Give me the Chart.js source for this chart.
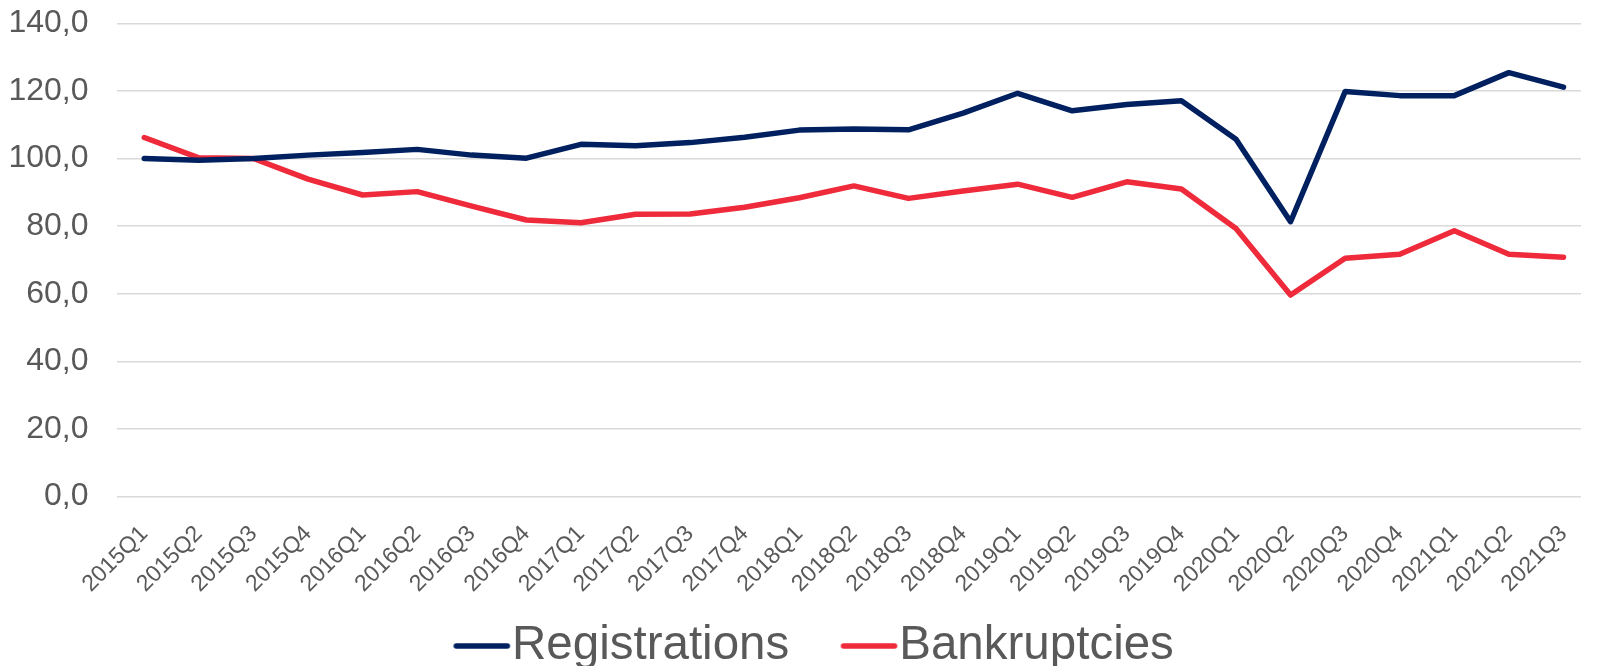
<!DOCTYPE html>
<html>
<head>
<meta charset="utf-8">
<script src="https://cdn.jsdelivr.net/npm/chart.js@4/dist/chart.umd.min.js"></script>
<style>
  html, body { margin: 0; padding: 0; background: #fff; overflow: hidden; }
  #wrap { width: 1599px; height: 666px; position: relative; }
</style>
</head>
<body>
<div id="wrap"><canvas id="kayitChart"></canvas></div>
<script>
const ceyrekler = ['2015Q1', '2015Q2', '2015Q3', '2015Q4', '2016Q1', '2016Q2', '2016Q3', '2016Q4',
  '2017Q1', '2017Q2', '2017Q3', '2017Q4', '2018Q1', '2018Q2', '2018Q3', '2018Q4',
  '2019Q1', '2019Q2', '2019Q3', '2019Q4', '2020Q1', '2020Q2', '2020Q3', '2020Q4',
  '2021Q1', '2021Q2', '2021Q3'];

const kayitlar = [100.0, 99.5, 100.0, 101.0, 101.8, 102.7, 101.0, 100.1,
  104.2, 103.8, 104.7, 106.3, 108.4, 108.7, 108.5, 113.4,
  119.3, 114.1, 116.0, 117.1, 105.7, 81.3, 119.8, 118.6,
  118.6, 125.4, 121.1];

const iflaslar = [106.2, 100.2, 100.0, 93.9, 89.2, 90.2, 85.9, 81.8,
  81.0, 83.5, 83.6, 85.6, 88.4, 91.9, 88.2, 90.4,
  92.4, 88.5, 93.1, 91.0, 79.3, 59.6, 70.5, 71.7,
  78.6, 71.7, 70.8];

const yEksen = { min: 0, max: 140, adim: 20 };
// son ceyrek grafik kenarina yakin, sag taraf kesik gorunuyor
const xEksen = { min: -0.5, max: 26.32 };

const yaziRengi = '#595959';
const font = 'Liberation Sans, Arial, sans-serif';

// legend icin kisa cizgi, yaziya yakin dursun diye saga kaydirilmis resim
function legendCizgi(color) {
  const c = document.createElement('canvas');
  c.width = 120;
  c.height = 12;
  const g = c.getContext('2d');
  g.strokeStyle = color;
  g.lineWidth = 5.5;
  g.lineCap = 'round';
  g.beginPath();
  g.moveTo(57, 6);
  g.lineTo(108, 6);
  g.stroke();
  return c;
}

const seri = (label, values, color) => ({
  label,
  data: values.map((v, i) => ({ x: i, y: v })),
  borderColor: color,
  backgroundColor: color,
  borderWidth: 5.5,
  borderCapStyle: 'round',
  borderJoinStyle: 'round',
  pointRadius: 0,
  pointHoverRadius: 0,
  pointStyle: legendCizgi(color),
  tension: 0,
  fill: false
});

new Chart(document.getElementById('kayitChart'), {
  type: 'line',
  data: {
    datasets: [
      seri('Registrations', kayitlar, '#002060'),
      seri('Bankruptcies', iflaslar, '#EE2A3B')
    ]
  },
  options: {
    responsive: true,
    maintainAspectRatio: false,
    animation: false,
    layout: { padding: { top: 23.3, left: 5.15, right: 0, bottom: -13.75 } },
    plugins: {
      tooltip: { enabled: false },
      legend: {
        position: 'bottom',
        labels: {
          usePointStyle: true,
          pointStyleWidth: 58,
          color: yaziRengi,
          font: { family: font, size: 47.5 },
          padding: 28.25
        }
      }
    },
    scales: {
      x: {
        type: 'linear',
        min: xEksen.min,
        max: xEksen.max,
        afterBuildTicks: scale => {
          scale.ticks = ceyrekler.map((_, i) => ({ value: i }));
        },
        afterFit: scale => { scale.height = 97.5; },
        grid: { display: false },
        border: { display: false },
        ticks: {
          color: yaziRengi,
          font: { family: font, size: 23 },
          minRotation: 45,
          maxRotation: 45,
          autoSkip: false,
          padding: 16,
          callback: v => ceyrekler[v]
        }
      },
      y: {
        min: yEksen.min,
        max: yEksen.max,
        afterFit: scale => { scale.width = 111.85; },
        grid: { color: '#d9d9d9', lineWidth: 1.5, drawTicks: true, tickLength: 28.5, tickColor: 'rgba(0,0,0,0)' },
        border: { display: false },
        ticks: {
          stepSize: yEksen.adim,
          color: yaziRengi,
          font: { family: font, size: 32 },
          padding: 0,
          callback: v => v.toFixed(1).replace('.', ',')
        }
      }
    }
  }
});
</script>
</body>
</html>
